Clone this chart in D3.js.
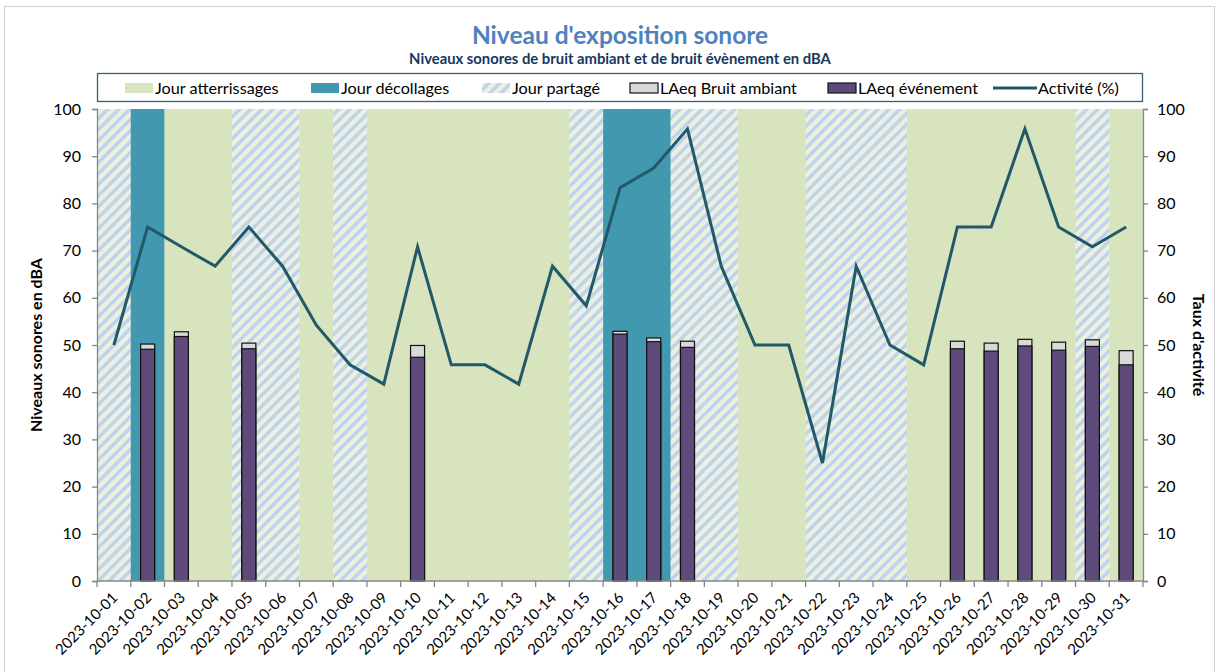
<!DOCTYPE html>
<html>
<head>
<meta charset="utf-8">
<script src="https://cdn.jsdelivr.net/npm/d3@7"></script>
<style>
  body { margin: 0; background: #fff; }
  text { font-family: Lato, "Open Sans", sans-serif; }
</style>
</head>
<body>
<div id="chart"></div>
<script>
// data
var days = ["2023-10-01","2023-10-02","2023-10-03","2023-10-04","2023-10-05","2023-10-06","2023-10-07","2023-10-08",
  "2023-10-09","2023-10-10","2023-10-11","2023-10-12","2023-10-13","2023-10-14","2023-10-15","2023-10-16",
  "2023-10-17","2023-10-18","2023-10-19","2023-10-20","2023-10-21","2023-10-22","2023-10-23","2023-10-24",
  "2023-10-25","2023-10-26","2023-10-27","2023-10-28","2023-10-29","2023-10-30","2023-10-31"];
// A = atterrissages, D = décollages, P = partagé
var dayType = ["P","D","A","A","P","P","A","P","A","A","A","A","A","A","P","D","D","P","P","A","A","P","P","P","A","A","A","A","A","P","A"];
var ambiant = [null,50.2,52.8,null,50.4,null,null,null,null,49.9,null,null,null,null,null,52.9,51.5,50.8,null,null,null,null,null,null,null,50.8,50.4,51.2,50.6,51.1,48.8];
var evenement = [null,49.1,51.8,null,49.2,null,null,null,null,47.4,null,null,null,null,null,52.3,50.7,49.5,null,null,null,null,null,null,null,49.2,48.7,49.8,48.9,49.7,45.8];
var activite = [50,75,70.8,66.7,75,66.7,54.2,45.8,41.7,70.8,45.8,45.8,41.7,66.7,58.3,83.3,87.5,95.8,66.7,50,50,25,66.7,50,45.8,75,75,95.8,75,70.8,75];
var yTicks = [0,10,20,30,40,50,60,70,80,90,100];

var W = 1217, H = 672;
var margin = {top: 109, right: 74, bottom: 91, left: 97},
    width = W - margin.left - margin.right,
    height = H - margin.top - margin.bottom;

var colA = "#d7e4bd", colD = "#4198af", colAmb = "#d9d9d9", colEvt = "#5f4b7b", colLine = "#215968";

var svg = d3.select("#chart").append("svg")
    .attr("width", W)
    .attr("height", H);

// hatch for "Jour partagé"
var defs = svg.append("defs");
var pat = defs.append("pattern")
    .attr("id", "hatch")
    .attr("patternUnits", "userSpaceOnUse")
    .attr("width", 11).attr("height", 11);
pat.append("rect").attr("width", 11).attr("height", 11).attr("fill", "#ebf1de");
pat.append("path")
    .attr("d", "M-2,2 L2,-2 M0,11 L11,0 M9,13 L13,9")
    .attr("stroke", "#bfd2ee")
    .attr("stroke-width", 3.4);

// outer frame
svg.append("rect")
    .attr("x", 4.5).attr("y", 6.5)
    .attr("width", 1210).attr("height", 700)
    .attr("fill", "none").attr("stroke", "#d0d0d0");

// titles
svg.append("text").attr("x", 620).attr("y", 44)
    .attr("text-anchor", "middle")
    .style("font-size", "24.5px").style("font-weight", "bold").style("fill", "#4f81bd")
    .text("Niveau d'exposition sonore");
svg.append("text").attr("x", 620).attr("y", 64)
    .attr("text-anchor", "middle")
    .style("font-size", "14.8px").style("font-weight", "bold").style("fill", "#17375e")
    .text("Niveaux sonores de bruit ambiant et de bruit évènement en dBA");

var g = svg.append("g")
    .attr("transform", "translate(" + margin.left + "," + margin.top + ")");

var x = d3.scaleBand().domain(days).range([0, width]).padding(0);
var y = d3.scaleLinear().domain([0, 100]).range([height, 0]);
var y2 = d3.scaleLinear().domain([0, 100]).range([height, 0]);

// day background bands
g.append("g").selectAll("rect")
  .data(days)
  .enter().append("rect")
    .attr("x", function(d) { return x(d); })
    .attr("y", y(100))
    .attr("width", x.bandwidth() + 0.3)
    .attr("height", y(0) - y(100))
    .attr("fill", function(d, i) {
      if (dayType[i] == "A") return colA;
      if (dayType[i] == "D") return colD;
      return "url(#hatch)";
    });

// bars: ambient behind, event in front
var barW = 14;
var barData = days.map(function(d, i) { return {day: d, amb: ambiant[i], evt: evenement[i]}; })
  .filter(function(d) { return d.amb != null; });

g.append("g").selectAll("rect")
  .data(barData)
  .enter().append("rect")
    .attr("x", function(d) { return x(d.day) + x.bandwidth() / 2 - barW / 2; })
    .attr("y", function(d) { return y(d.amb); })
    .attr("width", barW)
    .attr("height", function(d) { return y(0) - y(d.amb); })
    .attr("fill", colAmb).attr("stroke", "#111").attr("stroke-width", 1.2);

g.append("g").selectAll("rect")
  .data(barData)
  .enter().append("rect")
    .attr("x", function(d) { return x(d.day) + x.bandwidth() / 2 - barW / 2; })
    .attr("y", function(d) { return y(d.evt); })
    .attr("width", barW)
    .attr("height", function(d) { return y(0) - y(d.evt); })
    .attr("fill", colEvt).attr("stroke", "#111").attr("stroke-width", 1.2);

// activity line
var line = d3.line()
    .x(function(d, i) { return x(days[i]) + x.bandwidth() / 2; })
    .y(function(d) { return y2(d); });
g.append("path")
    .datum(activite)
    .attr("d", line)
    .attr("fill", "none")
    .attr("stroke", colLine)
    .attr("stroke-width", 3)
    .attr("stroke-linejoin", "miter");

// axes
var axisCol = "#868686";
var yAxis = g.append("g")
    .call(d3.axisLeft(y).tickValues(yTicks).tickSize(5).tickPadding(11));
var y2Axis = g.append("g")
    .attr("transform", "translate(" + width + ",0)")
    .call(d3.axisRight(y2).tickValues(yTicks).tickSize(5).tickPadding(9));
[yAxis, y2Axis].forEach(function(a) {
  a.select(".domain").attr("stroke", axisCol).attr("stroke-width", 1.3);
  a.selectAll(".tick line").attr("stroke", axisCol).attr("stroke-width", 1.3);
  a.selectAll("text").style("font-size", "16px").style("fill", "#000").style("font-family", "Lato");
});

// x axis: ticks at band edges
var xg = g.append("g").attr("transform", "translate(0," + height + ")");
xg.append("line").attr("x1", 0).attr("x2", width).attr("stroke", axisCol).attr("stroke-width", 1.3);
xg.selectAll(".edge")
  .data(days.concat(["end"]))
  .enter().append("line")
    .attr("x1", function(d, i) { return i * x.step(); })
    .attr("x2", function(d, i) { return i * x.step(); })
    .attr("y1", 0).attr("y2", 6)
    .attr("stroke", axisCol).attr("stroke-width", 1.3);
xg.selectAll(".lab")
  .data(days)
  .enter().append("text")
    .attr("transform", function(d) {
      return "translate(" + (x(d) + x.bandwidth() / 2 + 1) + ",14) rotate(-45)";
    })
    .attr("text-anchor", "end")
    .attr("dy", "0.35em")
    .style("font-size", "15px")
    .style("fill", "#000")
    .text(function(d) { return d; });

// axis titles
svg.append("text")
    .attr("transform", "translate(42," + (margin.top + height / 2) + ") rotate(-90)")
    .attr("text-anchor", "middle")
    .style("font-size", "16px").style("font-weight", "bold")
    .text("Niveaux sonores en dBA");
svg.append("text")
    .attr("transform", "translate(1193," + (margin.top + height / 2) + ") rotate(90)")
    .attr("text-anchor", "middle")
    .style("font-size", "16px").style("font-weight", "bold")
    .text("Taux d'activité");

// legend
var lg = svg.append("g");
lg.append("rect").attr("x", 97.5).attr("y", 73.5).attr("width", 1045).attr("height", 28)
    .attr("fill", "#fff").attr("stroke", "#31627a").attr("stroke-width", 1.3);

var legendItems = [
  {label: "Jour atterrissages", x: 125, kind: "rect", fill: colA, stroke: "none"},
  {label: "Jour décollages", x: 311, kind: "rect", fill: colD, stroke: "none"},
  {label: "Jour partagé", x: 482, kind: "rect", fill: "url(#hatch)", stroke: "none"},
  {label: "LAeq Bruit ambiant", x: 630, kind: "rect", fill: colAmb, stroke: "#111"},
  {label: "LAeq événement", x: 828, kind: "rect", fill: colEvt, stroke: "#111"},
  {label: "Activité (%)", x: 993, kind: "line"}
];
legendItems.forEach(function(it) {
  if (it.kind == "rect") {
    lg.append("rect").attr("x", it.x).attr("y", 83).attr("width", 28).attr("height", 10)
      .attr("fill", it.fill).attr("stroke", it.stroke).attr("stroke-width", 1.2);
  } else {
    lg.append("line").attr("x1", it.x).attr("x2", it.x + 44).attr("y1", 88).attr("y2", 88)
      .attr("stroke", colLine).attr("stroke-width", 3);
  }
  lg.append("text")
    .attr("x", it.x + (it.kind == "line" ? 45 : 30))
    .attr("y", 94)
    .style("font-size", "16.2px")
    .text(it.label);
});
</script>
</body>
</html>
